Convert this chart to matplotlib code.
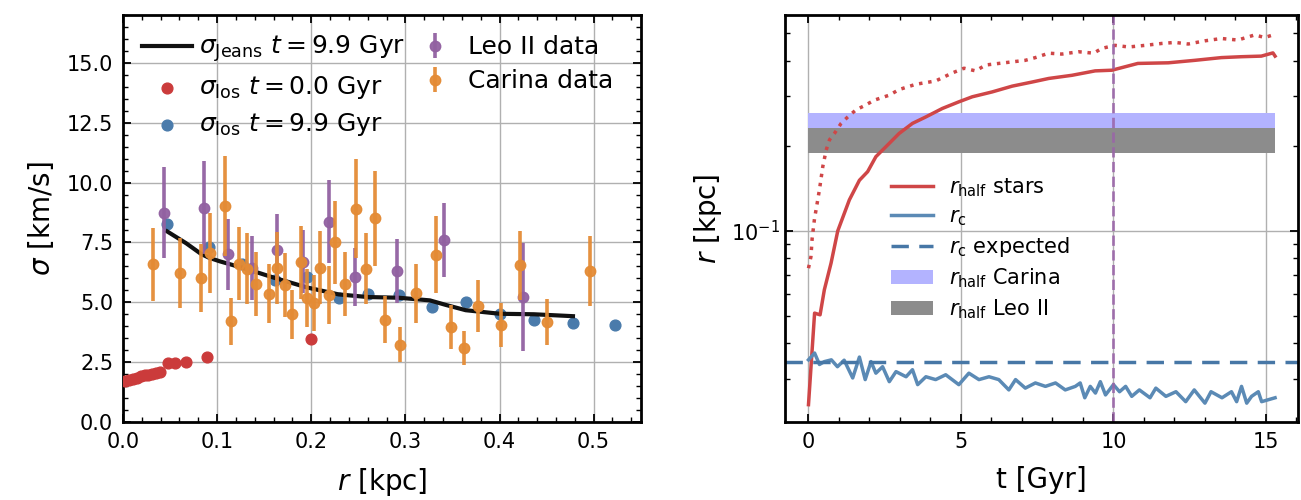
import numpy as np
import matplotlib
matplotlib.use("Agg")
import matplotlib.pyplot as plt
from matplotlib.ticker import MultipleLocator

# ---- left panel: velocity dispersion profiles ----
r_los_t0 = [0.002, 0.006, 0.011, 0.015, 0.019, 0.023, 0.027, 0.031, 0.035, 0.039,
            0.048, 0.055, 0.067, 0.089, 0.1994]
sig_los_t0 = [1.72, 1.76, 1.80, 1.85, 1.92, 1.97, 1.95, 2.02, 2.05, 2.10,
              2.47, 2.47, 2.50, 2.73, 3.47]

r_los_t99 = [0.047, 0.0915, 0.126, 0.161, 0.1955, 0.229, 0.260, 0.293, 0.328,
             0.364, 0.4005, 0.4366, 0.478, 0.5228]
sig_los_t99 = [8.28, 7.29, 6.60, 5.93, 6.06, 5.19, 5.33, 5.29, 4.82,
               5.00, 4.53, 4.27, 4.12, 4.06]

r_jeans = [0.047, 0.067, 0.083, 0.0915, 0.103, 0.126, 0.145, 0.161, 0.1955, 0.229,
           0.260, 0.293, 0.326, 0.343, 0.364, 0.4005, 0.4366, 0.478]
sig_jeans = [7.96, 7.47, 7.02, 6.86, 6.71, 6.45, 6.22, 6.02, 5.62, 5.33,
             5.22, 5.19, 5.08, 4.89, 4.67, 4.52, 4.50, 4.42]

r_leo = [0.0435, 0.086, 0.112, 0.137, 0.164, 0.191, 0.2185, 0.2467, 0.291, 0.3415, 0.4245]
sig_leo = [8.75, 8.95, 7.00, 6.43, 7.17, 6.70, 8.37, 6.05, 6.30, 7.61, 5.22]
err_leo = [1.90, 1.95, 1.50, 1.35, 1.50, 1.30, 1.73, 1.22, 1.35, 1.55, 2.25]

r_car = [0.0315, 0.0604, 0.0827, 0.0926, 0.108, 0.115, 0.123, 0.132, 0.141, 0.1555,
         0.164, 0.172, 0.180, 0.1888, 0.195, 0.203, 0.209, 0.2248, 0.2188, 0.2354,
         0.2478, 0.258, 0.268, 0.278, 0.2945, 0.311, 0.333, 0.348, 0.3623, 0.3775,
         0.4016, 0.422, 0.450, 0.496]
sig_car = [6.58, 6.23, 6.02, 7.06, 9.03, 4.20, 6.62, 6.40, 5.77, 5.36,
           6.44, 5.72, 4.50, 6.67, 5.19, 4.99, 6.44, 7.50, 5.30, 5.77,
           8.90, 6.41, 8.51, 4.28, 3.23, 5.38, 6.99, 3.95, 3.10, 4.85,
           4.05, 6.55, 4.19, 6.30]
err_car = [1.53, 1.45, 1.41, 1.66, 2.10, 1.00, 1.54, 1.48, 1.35, 1.24,
           1.50, 1.33, 1.03, 1.53, 1.21, 1.17, 1.52, 1.75, 1.21, 1.33,
           2.07, 1.48, 1.98, 0.98, 0.74, 1.24, 1.62, 0.92, 0.70, 1.10,
           0.92, 1.44, 0.96, 1.45]

# ---- right panel: radii vs time ----
t_half = [0.0, 0.2, 0.38, 0.52, 0.74, 0.96, 1.34, 1.67, 1.94, 2.21, 2.65, 2.97,
          3.41, 3.85, 4.39, 4.93, 5.37, 6.02, 6.68, 7.33, 7.88, 8.64, 9.4, 9.95,
          10.8, 11.8, 12.67, 13.54, 14.2, 14.85, 15.23, 15.3]
r_half = [0.0243, 0.0512, 0.0505, 0.0619, 0.0769, 0.100, 0.1287, 0.151, 0.162, 0.183,
          0.204, 0.221, 0.240, 0.253, 0.271, 0.286, 0.298, 0.310, 0.325, 0.336,
          0.346, 0.355, 0.368, 0.370, 0.391, 0.393, 0.401, 0.410, 0.413, 0.415,
          0.426, 0.415]

t_half3d = [0.0, 0.08, 0.12, 0.2, 0.25, 0.36, 0.47, 0.58, 0.69, 0.85, 1.07, 1.29,
            1.56, 1.83, 2.16, 2.65, 2.97, 3.52, 4.17, 4.72, 5.1, 5.48, 5.81, 6.24,
            6.68, 7.11, 7.44, 7.88, 8.31, 8.86, 9.35, 9.62, 10.05, 10.5, 11.04,
            11.58, 12.02, 12.45, 13.0, 13.54, 14.08, 14.63, 14.96, 15.23]
r_half3d = [0.0738, 0.081, 0.094, 0.111, 0.119, 0.140, 0.169, 0.193, 0.210, 0.221,
            0.240, 0.253, 0.268, 0.277, 0.290, 0.302, 0.316, 0.330, 0.339, 0.362,
            0.376, 0.368, 0.386, 0.391, 0.396, 0.401, 0.410, 0.425, 0.422, 0.430,
            0.425, 0.442, 0.453, 0.447, 0.453, 0.460, 0.464, 0.458, 0.470, 0.479,
            0.473, 0.493, 0.483, 0.493]

t_core = [0.0, 0.2, 0.36, 0.52, 0.75, 0.95, 1.17, 1.45, 1.67, 1.86, 2.05, 2.21,
          2.43, 2.65, 2.87, 3.2, 3.41, 3.58, 3.85, 4.17, 4.5, 4.93, 5.26, 5.59,
          5.92, 6.24, 6.57, 6.79, 7.11, 7.44, 7.77, 8.1, 8.42, 8.75, 8.91, 9.06,
          9.24, 9.41, 9.57, 9.74, 10.0, 10.2, 10.4, 10.6, 10.85, 11.2, 11.39,
          11.72, 12.05, 12.37, 12.65, 13.0, 13.2, 13.56, 13.87, 14.04, 14.2,
          14.37, 14.53, 14.75, 14.86, 15.08, 15.3]
r_core = [0.0350, 0.0370, 0.0337, 0.0345, 0.0350, 0.0331, 0.0349, 0.0302, 0.0358,
          0.0298, 0.0345, 0.0314, 0.0331, 0.0293, 0.0318, 0.0305, 0.0323, 0.0286,
          0.0305, 0.0298, 0.0310, 0.0286, 0.0314, 0.0298, 0.0305, 0.0298, 0.0274,
          0.0298, 0.0278, 0.0290, 0.0282, 0.0290, 0.0274, 0.0282, 0.0290, 0.0257,
          0.0282, 0.0267, 0.0293, 0.0263, 0.0286, 0.0270, 0.0282, 0.0260, 0.0274,
          0.0257, 0.0278, 0.0260, 0.0270, 0.0249, 0.0274, 0.0246, 0.0270, 0.0257,
          0.0270, 0.0249, 0.0282, 0.0246, 0.0260, 0.0270, 0.0249, 0.0253, 0.0257]

r_core_expected = 0.0345
t_band = [0.0, 15.3]
carina_band = (0.231, 0.261)
leo_band = (0.188, 0.231)
t_snapshot = 10.0


def style_axis(ax):
    ax.minorticks_on()
    ax.tick_params(which='both', direction='in', top=True, right=True,
                   labelsize=15, pad=7)
    ax.tick_params(which='major', length=6, width=1.3)
    ax.tick_params(which='minor', length=3.5, width=1.0)
    for sp in ax.spines.values():
        sp.set_linewidth(2)
    ax.grid(True, which='major', color='#b0b0b0', linewidth=1.0)
    ax.set_axisbelow(True)


def plot_dispersion(ax):
    ax.plot(r_jeans, sig_jeans, color='#111111', lw=3, zorder=4,
            label=r'$\sigma_\mathrm{Jeans}\ t=9.9$ Gyr')
    ax.scatter(r_los_t0, sig_los_t0, s=60, color='#cb3b3b', zorder=3,
               label=r'$\sigma_\mathrm{los}\ t=0.0$ Gyr')
    ax.scatter(r_los_t99, sig_los_t99, s=60, color='#4a7bab', zorder=3,
               label=r'$\sigma_\mathrm{los}\ t=9.9$ Gyr')
    ax.errorbar(r_leo, sig_leo, yerr=err_leo, fmt='o', ms=7.5, color='#9261a1',
                elinewidth=2.6, alpha=0.95, zorder=5, label='Leo II data')
    ax.errorbar(r_car, sig_car, yerr=err_car, fmt='o', ms=7.5, color='#e48b35',
                elinewidth=2.6, alpha=0.95, zorder=6, label='Carina data')
    ax.set_xlim(0, 0.55)
    ax.set_ylim(0, 17)
    ax.set_yticks(np.arange(0, 15.1, 2.5))
    ax.set_xlabel('$r$ [kpc]', fontsize=20, labelpad=10)
    ax.set_ylabel(r'$\sigma$ [km/s]', fontsize=20, labelpad=8)
    style_axis(ax)
    ax.legend(loc='upper left', ncol=2, frameon=False, fontsize=18,
              columnspacing=0.2, handletextpad=0.3, labelspacing=0.4,
              borderaxespad=0.35)


def plot_radii(ax):
    ax.plot(t_half, r_half, color='#cf4647', lw=2.5, label=r'$r_\mathrm{half}$ stars')
    ax.plot(t_half3d, r_half3d, color='#cf4647', lw=2.5, ls=':')
    ax.plot(t_core, r_core, color='#5b8ab5', lw=2.5, label=r'$r_\mathrm{c}$')
    ax.axhline(r_core_expected, color='#4777a6', lw=2.5, ls='--', dashes=(5, 3),
               label=r'$r_\mathrm{c}$ expected')
    ax.fill_between(t_band, *carina_band, color='#b3b3ff', lw=0,
                    label=r'$r_\mathrm{half}$ Carina')
    ax.fill_between(t_band, *leo_band, color='#8c8c8c', lw=0,
                    label=r'$r_\mathrm{half}$ Leo II')
    ax.axvline(t_snapshot, color='#9a64a8', lw=2, ls='--', alpha=0.85)
    ax.set_yscale('log')
    ax.set_ylim(0.0211, 0.58)
    ax.xaxis.set_major_locator(MultipleLocator(5))
    ax.set_xlabel('t [Gyr]', fontsize=20, labelpad=10)
    ax.set_ylabel('$r$ [kpc]', fontsize=20)
    style_axis(ax)
    ax.tick_params(axis='y', which='both', pad=4)
    ax.yaxis.set_label_coords(-0.12, 0.5)
    ax.legend(loc='upper left', bbox_to_anchor=(0.17, 0.65), frameon=False,
              fontsize=15, handletextpad=0.8, labelspacing=0.35)


if __name__ == '__main__':
    fig = plt.figure(figsize=(13.01, 5.0), dpi=100)
    ax1 = fig.add_axes([0.0945, 0.156, 0.398, 0.814])
    ax2 = fig.add_axes([0.6035, 0.156, 0.3945, 0.814])
    plot_dispersion(ax1)
    plot_radii(ax2)
    fig.savefig('out.png', dpi=100)
